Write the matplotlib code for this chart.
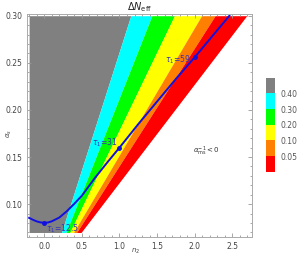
import numpy as np
import matplotlib.pyplot as plt
from matplotlib.colors import ListedColormap, BoundaryNorm
from matplotlib.ticker import MultipleLocator

# band boundaries (n2) at the bottom and top of the sigma range
sig_lo, sig_hi = 0.07, 0.30
n2_min = -0.2
edges_lo = [0.23, 0.29, 0.34, 0.39, 0.43, 0.49]
edges_hi = [1.15, 1.43, 1.73, 2.09, 2.27, 2.69]
band_colors = ['#00ffff', '#00ff00', '#ffff00', '#ff8000', '#ff0000']
gray = '#808080'

# colorbar levels
levels = [0.0, 0.05, 0.10, 0.20, 0.30, 0.40, 0.50]
level_colors = ['#ff0000', '#ff8000', '#ffff00', '#00ff00', '#00ffff', gray]
level_ticks = [0.05, 0.10, 0.20, 0.30, 0.40]

# blue curve
curve_n2 = [-0.2, -0.15, -0.1, -0.05, 0.0, 0.05, 0.1, 0.2, 0.3, 0.4, 0.5, 0.67,
            0.85, 1.0, 1.25, 1.5, 1.75, 2.0, 2.25, 2.46]
curve_sig = [0.0855, 0.0835, 0.0818, 0.0807, 0.0803, 0.0806, 0.0818, 0.0858, 0.0925,
             0.1005, 0.109, 0.1275, 0.1455, 0.160, 0.185, 0.209, 0.233, 0.256,
             0.280, 0.300]
dot_n2 = [0.0, 1.0, 2.0]
dot_sig = [0.0803, 0.160, 0.256]
dot_lab = [r'$\tau_1$=12.5', r'$\tau_1$=31', r'$\tau_1$=59']

fig = plt.figure(figsize=(2.97, 2.58), dpi=100)
ax = fig.add_axes([27/297, 1-237/258, 225/297, 223/258])

sig = np.array([sig_lo, sig_hi])
ax.fill_betweenx(sig, [n2_min, n2_min], [edges_lo[0], edges_hi[0]], color=gray, lw=0)
for i, c in enumerate(band_colors):
    ax.fill_betweenx(sig, [edges_lo[i], edges_hi[i]], [edges_lo[i+1], edges_hi[i+1]],
                     color=c, lw=0)

ax.plot(curve_n2, curve_sig, color='#1010e0', lw=1.4)
ax.plot(dot_n2, dot_sig, 'o', color='#1010e0', ms=2.5)
ax.text(dot_n2[0]+0.03, dot_sig[0]-0.006, dot_lab[0], color='#3333bb', fontsize=5.5,
        ha='left', va='center')
ax.text(dot_n2[1]-0.03, dot_sig[1]+0.005, dot_lab[1], color='#3333bb', fontsize=5.5,
        ha='right', va='center')
ax.text(dot_n2[2]-0.06, dot_sig[2]-0.003, dot_lab[2], color='#3333bb', fontsize=5.5,
        ha='right', va='center')
ax.text(2.15, 0.156, r'$\alpha_{\rm ms}^{-1}<0$', color='#333333', fontsize=5,
        ha='center', va='center')

ax.set_xlim(-0.228, 2.76)
ax.set_ylim(0.0652, 0.3018)
ax.xaxis.set_major_locator(MultipleLocator(0.5))
ax.xaxis.set_minor_locator(MultipleLocator(0.1))
ax.yaxis.set_major_locator(MultipleLocator(0.05))
ax.yaxis.set_minor_locator(MultipleLocator(0.01))
ax.tick_params(which='both', direction='in', top=True, right=True, color='#999999',
               labelsize=5.5, labelcolor='#444444', width=0.6)
ax.tick_params(which='major', length=3)
ax.tick_params(which='minor', length=1.5)
for s in ax.spines.values():
    s.set_color('#aaaaaa')
    s.set_linewidth(0.7)
ax.set_title(r'$\Delta N_{\rm eff}$', fontsize=7, color='#222222', pad=3)
fig.text(136/297, 1-251/258, r'$n_2$', fontsize=5, color='#444444', ha='center', va='center')
fig.text(9/297, 125/258, r'$\alpha_s$', fontsize=5, color='#444444', ha='center',
         va='center', rotation=90)

cax = fig.add_axes([265.7/297, 1-171.7/258, 9.6/297, 94/258])
cmap = ListedColormap(level_colors)
norm = BoundaryNorm(levels, cmap.N)
sm = plt.cm.ScalarMappable(cmap=cmap, norm=norm)
cb = fig.colorbar(sm, cax=cax, boundaries=levels, spacing='uniform', ticks=level_ticks)
cb.outline.set_visible(False)
cb.ax.minorticks_off()
cb.ax.tick_params(length=0, labelsize=5.5, labelcolor='#555555', pad=4)
cb.ax.set_yticklabels([f'{t:.2f}' for t in level_ticks])

fig.savefig('out.png', dpi=100)
